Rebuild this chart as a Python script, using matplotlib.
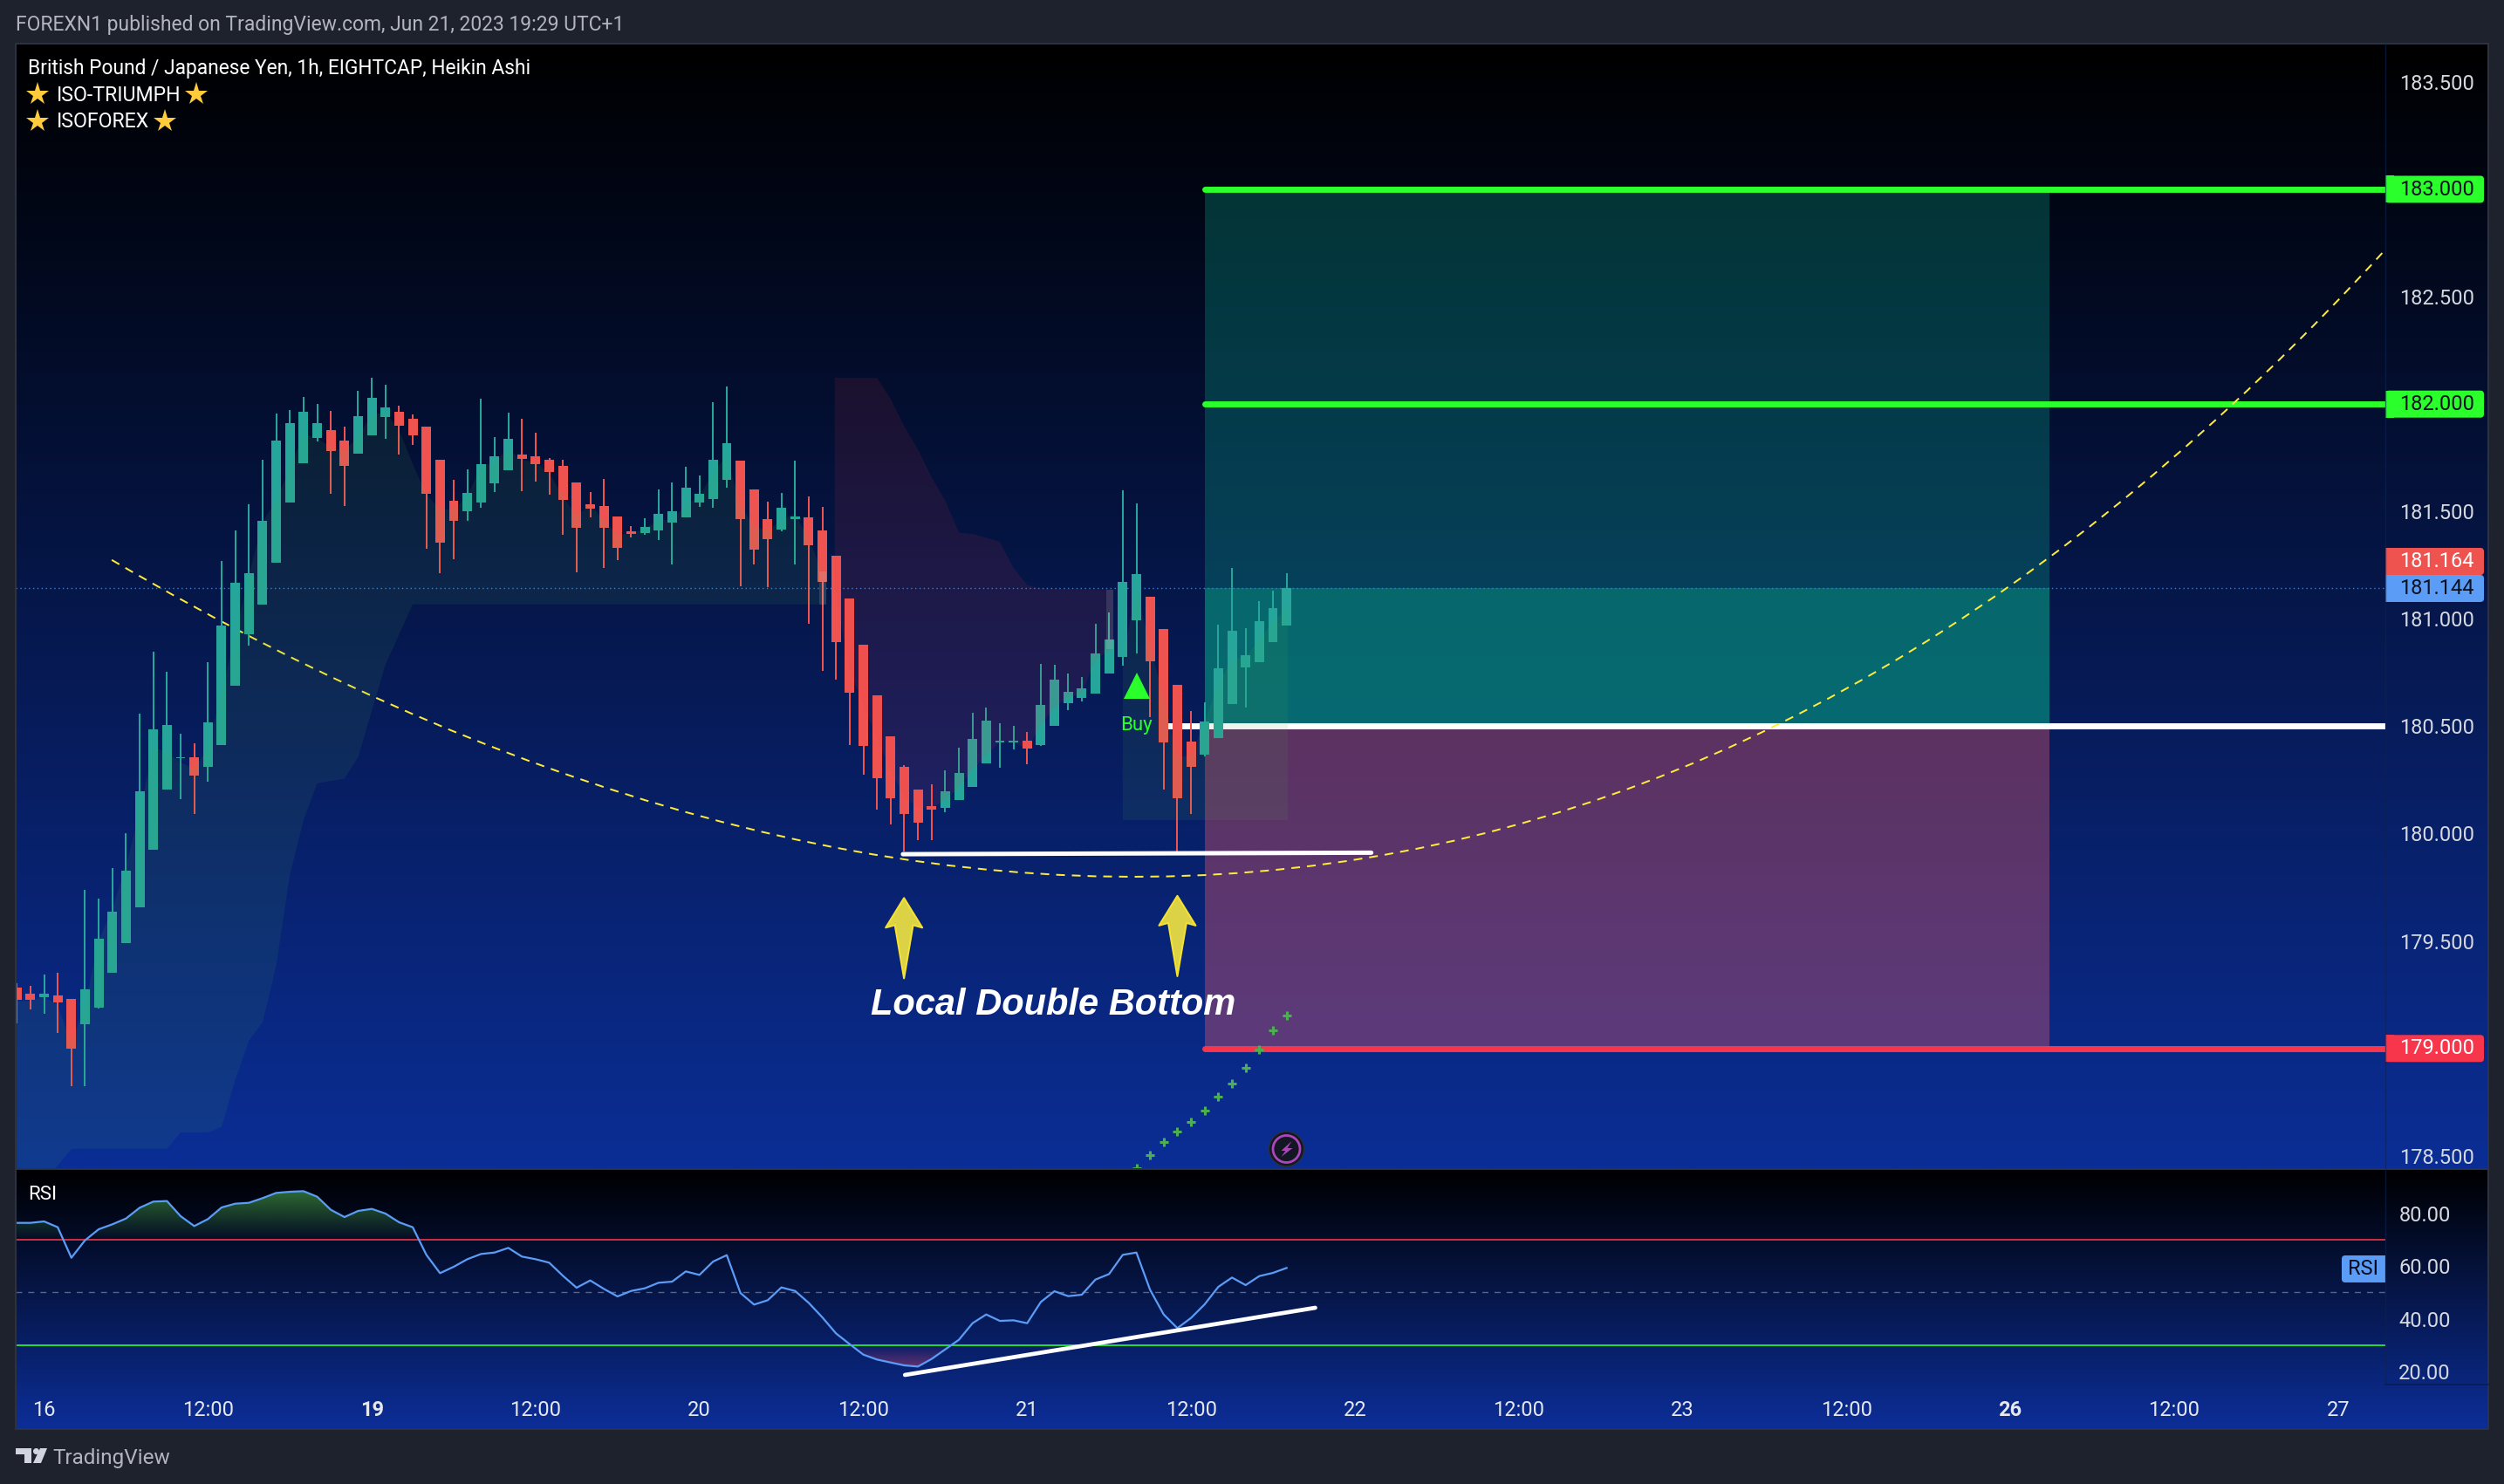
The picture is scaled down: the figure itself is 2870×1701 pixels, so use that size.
import numpy as np
import matplotlib
matplotlib.use("Agg")
import matplotlib.pyplot as plt
from matplotlib.patches import Rectangle, Polygon, PathPatch, Circle, FancyBboxPatch
from matplotlib.path import Path

plt.rcParams['font.family'] = ['Roboto', 'DejaVu Sans']

# ---------- data ----------
bars = list(range(-2, 92))
opens = [179.284,179.256,179.240,179.247,179.231,179.114,179.191,179.350,179.492,179.657,179.925,180.203,180.352,180.357,180.312,180.413,180.690,180.928,181.068,181.261,181.543,181.725,181.841,181.879,181.830,181.769,181.855,181.939,181.965,181.932,
         181.895,181.741,181.550,181.502,181.542,181.632,181.693,181.766,181.758,181.741,181.713,181.635,181.534,181.526,181.477,181.408,181.400,181.411,181.449,181.474,181.542,181.559,181.648,181.736,181.603,181.464,181.416,181.464,181.474,181.411,181.295,181.096,
         180.881,180.645,180.453,180.312,180.206,180.129,180.121,180.156,180.217,180.328,180.426,180.426,180.433,180.413,180.502,180.608,180.632,180.653,180.746,180.823,180.993,181.104,180.953,180.693,180.429,180.368,180.445,180.604,180.775,180.799,180.892,180.969]
highs = [179.303,179.289,179.343,179.350,179.231,179.739,179.699,179.841,180.002,180.559,180.846,180.755,180.466,180.422,180.800,181.270,181.413,181.534,181.741,181.956,181.972,182.033,182.000,181.967,181.895,182.063,182.124,182.091,181.993,181.951,
         181.895,181.741,181.648,181.696,182.025,181.847,181.960,181.932,181.867,181.749,181.741,181.635,181.590,181.652,181.477,181.432,181.469,181.603,181.635,181.708,181.668,182.010,182.083,181.736,181.603,181.547,181.587,181.736,181.570,181.522,181.295,181.096,
         180.881,180.645,180.453,180.320,180.206,180.230,180.294,180.400,180.563,180.588,180.514,180.502,180.474,180.791,180.786,180.746,180.730,180.977,181.030,181.599,181.538,181.104,180.953,180.693,180.571,180.612,180.974,181.237,180.958,181.083,181.131,181.213]
lows = [179.117,179.182,179.163,179.070,178.825,178.823,179.187,179.350,179.492,179.657,179.925,180.203,180.161,180.093,180.242,180.413,180.690,180.876,181.068,181.261,181.543,181.725,181.825,181.583,181.527,181.769,181.855,181.839,181.765,181.811,
        181.327,181.212,181.278,181.456,181.517,181.590,181.693,181.595,181.640,181.579,181.391,181.217,181.474,181.237,181.275,181.380,181.391,181.368,181.254,181.474,181.522,181.517,181.610,181.152,181.254,181.149,181.408,181.254,180.978,180.758,180.718,180.413,
        180.275,180.113,180.044,179.915,179.970,179.970,180.100,180.156,180.217,180.328,180.307,180.392,180.323,180.408,180.502,180.576,180.616,180.653,180.746,180.783,180.839,180.542,180.206,179.915,180.092,180.360,180.445,180.604,180.588,180.799,180.892,180.969]
closes = [179.224,179.224,179.256,179.214,179.000,179.273,179.510,179.636,179.828,180.198,180.487,180.506,180.357,180.270,180.518,180.970,181.168,181.212,181.457,181.830,181.911,181.965,181.911,181.781,181.713,181.944,182.030,181.984,181.900,181.855,
          181.582,181.355,181.456,181.587,181.721,181.758,181.839,181.746,181.721,181.685,181.554,181.424,181.514,181.424,181.331,181.396,181.428,181.489,181.502,181.610,181.582,181.741,181.819,181.464,181.323,181.371,181.517,181.477,181.343,181.172,180.892,180.656,
          180.408,180.259,180.166,180.092,180.052,180.113,180.198,180.283,180.442,180.527,180.433,180.433,180.397,180.600,180.717,180.661,180.677,180.839,180.905,181.173,181.210,180.804,180.425,180.166,180.312,180.523,180.770,180.945,180.831,180.990,181.051,181.144]
rsi = [76.32,76.32,76.87,74.67,63.10,69.71,73.90,75.77,77.97,82.05,84.37,84.59,78.86,75.11,77.75,82.16,83.59,83.92,85.69,87.67,88.11,88.33,86.24,81.28,78.52,80.84,81.61,79.85,76.54,74.67,
       64.20,57.26,59.68,62.55,64.53,65.08,66.84,63.54,62.55,61.22,56.26,51.75,54.50,51.31,48.44,50.53,51.53,53.62,54.06,57.92,56.60,61.66,64.09,49.76,45.35,47.01,51.86,50.53,46.02,40.51,34.44,30.37,
       26.40,24.53,23.42,22.32,21.88,24.75,28.38,32.02,38.30,41.61,39.18,39.40,38.30,46.35,50.42,48.55,49.10,54.83,56.93,64.20,65.08,50.97,41.61,36.43,40.29,45.46,52.08,55.60,52.74,56.15,57.37,59.24]

cloud_bars = list(range(-2, 58))
cloud_upper = [179.22,179.22,179.24,179.20,179.02,179.20,179.50,179.65,179.85,180.10,180.40,180.38,180.33,180.30,180.40,180.66,180.92,181.20,181.45,181.55,181.70,181.86,181.84,181.80,181.78,181.85,181.95,181.96,181.88,181.72,
               181.58,181.51,181.51,181.57,181.71,181.73,181.79,181.74,181.73,181.68,181.57,181.48,181.53,181.46,181.39,181.40,181.42,181.46,181.46,181.53,181.57,181.68,181.76,181.53,181.43,181.41,181.46,181.49,181.37,181.22]
cloud_low_bars = [-2.0,0.8,2,9,10,12,13,14,15,16,17,18,19,20,22,23,25,27,57.3]
cloud_lower = [178.10,178.439,178.532,178.532,178.609,178.609,178.634,178.853,179.036,179.121,179.385,179.807,180.063,180.234,180.256,180.356,180.786,181.067,181.067]

red_up_bars = [57.9,61,62,63,64,65,66,67,68,69,70,71,72,73,78.3]
red_upper = [182.122,182.122,182.024,181.896,181.788,181.660,181.550,181.401,181.395,181.377,181.358,181.237,181.157,181.141,181.136]
red_low_bars = [57.9,59,60,61,62,63,64,65,66,67,68,69,70,71,72,73,74,75,76,77,78.3]
red_lower = [181.133,180.763,180.603,180.442,180.298,180.169,180.121,180.121,180.153,180.217,180.298,180.362,180.426,180.426,180.394,180.506,180.587,180.635,180.651,180.812,180.860]

buy_bars = [79.0,80,81,82,83,84,85,86,87,88,89,90,91.1]
buy_upper = [180.823,181.132,180.876,180.632,180.360,180.360,180.522,180.700,180.807,180.823,180.904,180.985,181.050]
buy_floor = 180.063

plus_bars = [91,90,89,88,87,86,85,84,83,82,81,80]
plus_prices = [179.152,179.083,178.994,178.909,178.838,178.775,178.709,178.659,178.612,178.563,178.501,178.442]

price_ticks = [183.5,182.5,181.5,181.0,180.5,180.0,179.5,178.5]
rsi_ticks = [20,40,60,80]
time_pos = [0,12,24,36,48,60,72,84,96,108,120,132,144,156,168]
time_labels = ['16','12:00','19','12:00','20','12:00','21','12:00','22','12:00','23','12:00','26','12:00','27']
bold_labels = ['19','26']

LAST_CLOSE = 181.144
LAST_TAG = 181.164
TP1, TP2, ENTRY, STOP = 182.0, 183.0, 180.5, 179.0
SUPPORT = ([62.9, 97.2], [179.904, 179.911])
RSI_TREND = ([63.05, 93.1], [18.7, 44.15])
CURVE = [(4.96, 181.274), (100.0, 177.72), (171.6, 182.728)]
ARROW_TIPS = [(62.98, 179.70), (83.0, 179.71)]

# ---------- layout helpers (reference pixels) ----------
W, H = 2870, 1701
BG = '#1e222d'
PANEL_L, PANEL_R, AXIS_X = 18, 2852, 2734
MAIN_T, MAIN_B, RSI_B, TIME_B = 50, 1340, 1587, 1638
XMIN, XMAX = (PANEL_L - 50.5) / 15.65, (AXIS_X - 50.5) / 15.65

def rect(x0, y0, x1, y1):
    return [x0 / W, 1 - y1 / H, (x1 - x0) / W, (y1 - y0) / H]

def py(p):
    return 217 + (183 - p) * 246.2

fig = plt.figure(figsize=(W / 100, H / 100), dpi=100, facecolor=BG)

def gradient_panel(y0, y1, bottom):
    a = fig.add_axes(rect(PANEL_L, y0, PANEL_R, y1))
    n = 256
    g = np.zeros((n, 1, 3))
    for c in range(3):
        g[:, 0, c] = np.linspace(0, bottom[c] / 255, n)
    a.imshow(g, aspect='auto', interpolation='bilinear')
    a.axis('off')

gradient_panel(MAIN_T, MAIN_B, (11, 46, 150))
gradient_panel(MAIN_B, TIME_B, (12, 46, 152))

# ---------- main pane ----------
ax = fig.add_axes(rect(PANEL_L, MAIN_T, AXIS_X, MAIN_B))
ax.patch.set_alpha(0)
ax.set_xlim(XMIN, XMAX)
ax.set_ylim(178.438, 183.678)
for s in ax.spines.values():
    s.set_visible(False)
ax.set_xticks([])
ax.yaxis.tick_right()
ax.set_yticks(price_ticks)
ax.set_yticklabels([f'{t:.3f}' for t in price_ticks])
ax.tick_params(axis='y', length=0, pad=11.5, labelsize=17, labelcolor='#d6d9df')

# position tool
BOX_L, BOX_R = 85.0, 146.9
ax.fill_between([BOX_L, BOX_R], ENTRY, TP2, color=(8/255, 153/255, 129/255), alpha=.32, lw=0, zorder=1)
ax.fill_between([BOX_L, BOX_R], ENTRY, LAST_CLOSE, color=(8/255, 153/255, 129/255), alpha=.45, lw=0, zorder=1)
ax.fill_between([BOX_L, BOX_R], STOP, ENTRY, color=(242/255, 90/255, 105/255), alpha=.36, lw=0, zorder=1)

# levels
LIME = '#2bff2b'
ax.plot([XMIN, XMAX], [LAST_CLOSE, LAST_CLOSE], color='#3f7fd0', lw=1, ls=(0, (1, 2.5)), zorder=2)
for lvl in (TP1, TP2):
    ax.plot([85, XMAX], [lvl, lvl], color=LIME, lw=5, solid_capstyle='round', zorder=2)
ax.plot([82, XMAX], [ENTRY, ENTRY], color='white', lw=5, solid_capstyle='butt', zorder=2)
ax.plot([85, XMAX], [STOP, STOP], color='#f7364b', lw=5, solid_capstyle='round', zorder=2)

# curve
ax.add_patch(PathPatch(Path(CURVE, [Path.MOVETO, Path.CURVE3, Path.CURVE3]), fc='none', ec='#ffeb3b',
                       lw=1.44, ls=(0, (5, 4)), zorder=2))

# candles
GREEN, RED = '#26a69a', '#ef5350'
for b, o, h, l, c in zip(bars, opens, highs, lows, closes):
    col = GREEN if c >= o else RED
    ax.vlines(b, l, h, color=col, lw=1.44, zorder=3)
    ax.bar(b, abs(c - o), bottom=min(o, c), width=0.70, color=col, lw=0, zorder=3.1)

# clouds
CLOUD_G = (76/255, 175/255, 80/255, .10)
CLOUD_R = (242/255, 54/255, 69/255, .10)
ax.fill(list(cloud_bars) + [57.3] + cloud_low_bars[::-1], cloud_upper + [181.22] + cloud_lower[::-1], color=CLOUD_G, lw=0, zorder=4)
ax.fill(red_up_bars + red_low_bars[::-1], red_upper + red_lower[::-1], color=CLOUD_R, lw=0, zorder=4)
ax.fill(buy_bars + [91.1, 79.0], buy_upper + [buy_floor, buy_floor], color=CLOUD_G, lw=0, zorder=4)
ax.fill_between([56.8, 57.3], 181.067, 181.22, color='white', alpha=.12, lw=0, zorder=4)
ax.fill_between([77.8, 78.3], 180.86, 181.136, color='white', alpha=.12, lw=0, zorder=4)

# support line, markers
ax.plot(SUPPORT[0], SUPPORT[1], color='white', lw=3.6, solid_capstyle='round', zorder=5)
ax.plot(plus_bars, plus_prices, ls='none', marker='+', ms=7, mew=2.2, color='#4caf50', zorder=5)
ax.plot([80], [180.689], ls='none', marker='^', ms=21, mew=0, color=LIME, zorder=5)
ax.text(80, 180.502, 'Buy', color=LIME, fontsize=16, ha='center', va='center', zorder=5)

# arrows
for tx, tp in ARROW_TIPS:
    pts = [(tx, tp), (tx + 1.34, tp - .138), (tx + .665, tp - .126), (tx, tp - .374),
           (tx - .665, tp - .126), (tx - 1.34, tp - .138)]
    ax.add_patch(Polygon(pts, closed=True, fc='#dcd246', ec='#f5e132', lw=1.5, joinstyle='round', zorder=5))

ax.text(73.9, 179.203, 'Local Double Bottom', family='Liberation Sans', weight='bold', style='italic',
        color='white', fontsize=30, ha='center', va='center', zorder=6)

# ---------- RSI pane ----------
rx = fig.add_axes(rect(PANEL_L, MAIN_B, AXIS_X, RSI_B))
rx.patch.set_alpha(0)
for s in rx.spines.values():
    s.set_visible(False)
rsi_arr = np.array(rsi)
bar_arr = np.array(bars, dtype=float)

def grad_fill(mask_fn, vlow, vhigh, color, a_low, a_high):
    coll = rx.fill_between(bar_arr, rsi_arr, 70 if vlow == 70 else 30, where=mask_fn(rsi_arr),
                           interpolate=True, color='none', lw=0)
    path = Path.make_compound_path(*coll.get_paths())
    img = np.zeros((128, 1, 4))
    img[..., 0], img[..., 1], img[..., 2] = color[0] / 255, color[1] / 255, color[2] / 255
    img[:, 0, 3] = np.linspace(a_high, a_low, 128)
    im = rx.imshow(img, extent=[XMIN, XMAX, vlow, vhigh], aspect='auto', zorder=1, interpolation='bilinear')
    im.set_clip_path(path, transform=rx.transData)

grad_fill(lambda r: r >= 70, 70, 89, (76, 175, 80), 0.0, .62)
grad_fill(lambda r: r <= 30, 21.5, 30, (190, 60, 105), .52, 0.0)

rx.axhline(70, color='#f23645', lw=1.2, zorder=2)
rx.axhline(30, color=LIME, lw=1.2, zorder=2)
rx.axhline(50, color='#787b86', lw=1, ls=(0, (5, 5)), alpha=.8, zorder=2)
rx.plot(bars, rsi, color='#5b9cf6', lw=1.6, zorder=3)
rx.plot(RSI_TREND[0], RSI_TREND[1], color='white', lw=3.4, solid_capstyle='round', zorder=4)
rx.set_xlim(XMIN, XMAX)
rx.set_ylim(15.06, 96.71)
rx.yaxis.tick_right()
rx.set_yticks(rsi_ticks)
rx.set_yticklabels([f'{t:.2f}' for t in rsi_ticks])
rx.tick_params(axis='y', length=0, pad=11, labelsize=17, labelcolor='#d6d9df')
rx.set_xticks(time_pos)
rx.set_xticklabels(time_labels)
rx.tick_params(axis='x', length=0, pad=13, labelsize=17, labelcolor='#e6e8ec')
for lab in rx.get_xticklabels():
    if lab.get_text() in bold_labels:
        lab.set_fontweight('bold')

# ---------- chrome (pixel coordinates) ----------
ch = fig.add_axes([0, 0, 1, 1])
ch.set_xlim(0, W)
ch.set_ylim(H, 0)
ch.axis('off')
ch.patch.set_alpha(0)

ch.add_patch(Rectangle((PANEL_L, MAIN_T), PANEL_R - PANEL_L, TIME_B - MAIN_T, fc='none', ec='#2e3240', lw=1.5))
ch.plot([PANEL_L, PANEL_R], [MAIN_B, MAIN_B], color='#2e3240', lw=1.5)
ch.plot([AXIS_X, AXIS_X], [MAIN_T, RSI_B], color='#0f2352', lw=1, alpha=.6)
ch.plot([AXIS_X, PANEL_R], [RSI_B, RSI_B], color='#0a1c52', lw=1.2)

def tag(price, label, color, tcolor, x0=AXIS_X, x1=2847, h=31, cy=None):
    y = py(price) if cy is None else cy
    ch.add_patch(FancyBboxPatch((x0, y - h / 2), x1 - x0, h, boxstyle='round,pad=0,rounding_size=4',
                                fc=color, ec='none'))
    ch.add_patch(Rectangle((x0, y - h / 2), 10, h, fc=color, ec='none'))
    ch.text(x0 + 16, y, label, color=tcolor, fontsize=17, ha='left', va='center')

tag(TP2, '183.000', LIME, '#0b1220')
tag(TP1, '182.000', LIME, '#0b1220')
tag(STOP, '179.000', '#f7364b', 'white')
tag(LAST_TAG, '181.164', '#ef5350', 'white', cy=643.5)
tag(LAST_CLOSE, '181.144', '#5b9cf6', '#0b1220', cy=674.5)

# RSI badge
ch.add_patch(FancyBboxPatch((2684, 1439), 50, 31, boxstyle='round,pad=0,rounding_size=4', fc='#5b9cf6', ec='none'))
ch.add_patch(Rectangle((2724, 1439), 10, 31, fc='#5b9cf6', ec='none'))
ch.text(2709, 1454.5, 'RSI', color='#060b1e', fontsize=17, ha='center', va='center')
ch.text(32, 1369, 'RSI', color='white', fontsize=16, ha='left', va='center')

# header and legend
ch.text(18, 28, 'FOREXN1 published on TradingView.com, Jun 21, 2023 19:29 UTC+1', color='#b2b5be', fontsize=16.5, ha='left', va='center')
ch.text(32, 78.5, 'British Pound / Japanese Yen, 1h, EIGHTCAP, Heikin Ashi', color='white', fontsize=16.35, ha='left', va='center')
ch.text(65, 109, 'ISO-TRIUMPH', color='white', fontsize=16.7, ha='left', va='center')
ch.text(65, 140, 'ISOFOREX', color='white', fontsize=16.7, ha='left', va='center')
ch.plot([43, 225, 43, 189], [108, 108, 139, 139], ls='none', marker='*', ms=20, mew=0, color='#ffcb3d')

# lightning badge
ch.add_patch(Circle((1474.5, 1317), 20, fc='#131722', ec='#2a2e39', lw=1))
ch.add_patch(Circle((1474.5, 1317), 15.5, fc='none', ec='#ab47bc', lw=2))
cx, cy = 1474.5, 1317
ch.add_patch(Polygon([(cx + 6, cy - 9), (cx - 6, cy + 2), (cx - 1, cy + 2), (cx - 6, cy + 9), (cx + 7, cy - 1), (cx + 1, cy - 1)],
                     closed=True, fc='#ab47bc', ec='none'))

# logo
LOGO = '#d1d4dc'
ch.add_patch(Rectangle((18, 1660), 18, 7, fc=LOGO, ec='none'))
ch.add_patch(Rectangle((28, 1660), 8, 17, fc=LOGO, ec='none'))
ch.add_patch(Circle((41.5, 1663.5), 3.5, fc=LOGO, ec='none'))
ch.add_patch(Polygon([(46, 1660), (54, 1660), (47, 1677), (38, 1677)], closed=True, fc=LOGO, ec='none'))
ch.text(60, 1671, 'TradingView', color='#b2b5be', fontsize=17.5, ha='left', va='center')

fig.savefig('out.png', dpi=100, facecolor=BG)
